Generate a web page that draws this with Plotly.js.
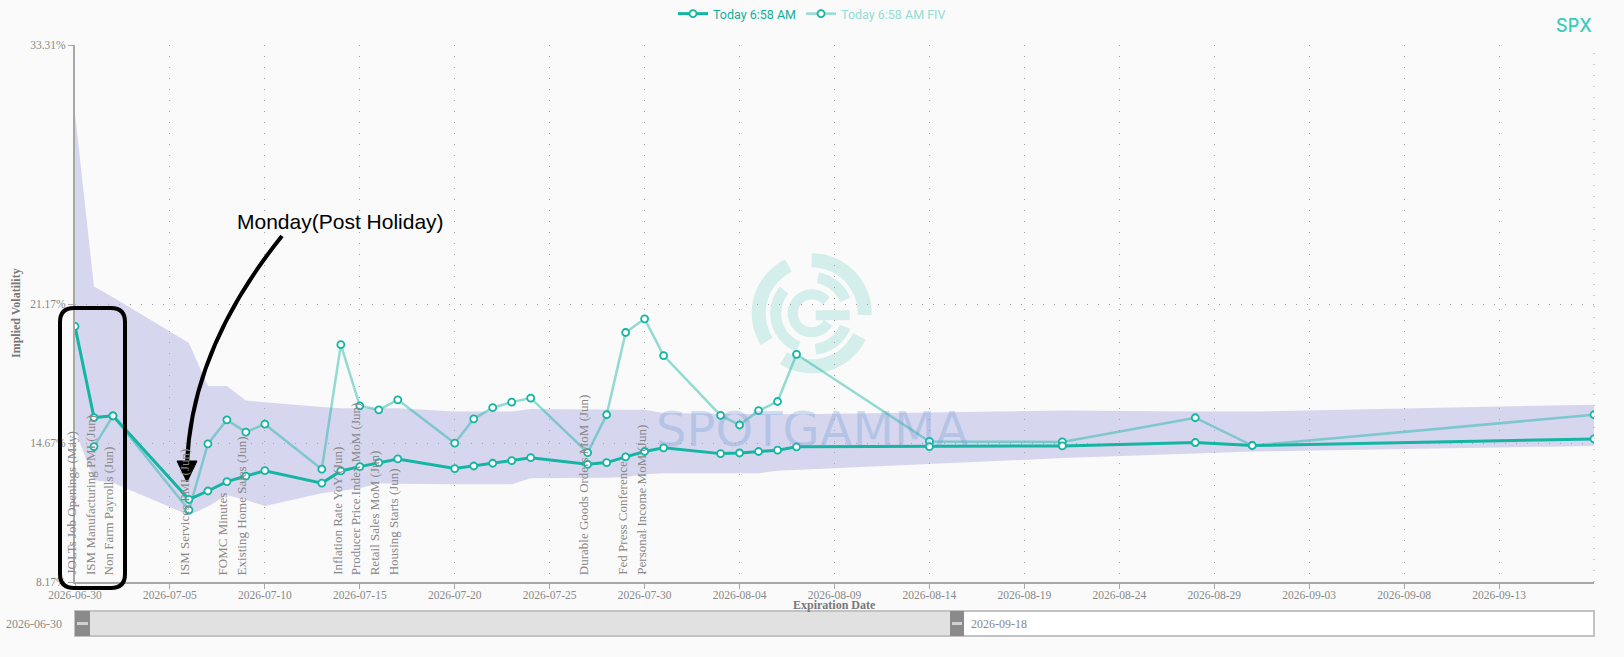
<!DOCTYPE html>
<html>
<head>
<meta charset="utf-8">
<script src="https://cdn.plot.ly/plotly-3.0.1.min.js"></script>
<style>
html,body{margin:0;padding:0;background:#fafafa;}
#chart{width:1624px;height:657px;}
</style>
</head>
<body>
<div id="chart"></div>
<script>
// ---------------- DATA ----------------
const expirations = ['2026-06-30','2026-07-01','2026-07-02','2026-07-06','2026-07-07','2026-07-08','2026-07-09','2026-07-10',
  '2026-07-13','2026-07-14','2026-07-15','2026-07-16','2026-07-17','2026-07-20','2026-07-21','2026-07-22','2026-07-23','2026-07-24',
  '2026-07-27','2026-07-28','2026-07-29','2026-07-30','2026-07-31','2026-08-03','2026-08-04','2026-08-05','2026-08-06','2026-08-07',
  '2026-08-14','2026-08-21','2026-08-28','2026-08-31','2026-09-18'];
const ivToday = [20.14,15.87,15.95,12.04,12.43,12.87,13.13,13.38,
  12.80,13.37,13.57,13.76,13.93,13.48,13.60,13.73,13.85,13.99,
  13.68,13.76,14.03,14.28,14.45,14.18,14.21,14.28,14.34,14.50,
  14.51,14.54,14.70,14.56,14.87];
const ivForward = [null,14.51,15.95,11.54,14.64,15.76,15.19,15.56,
  13.45,19.28,16.42,16.23,16.70,14.67,15.81,16.33,16.59,16.78,
  14.23,16.00,19.85,20.49,18.77,15.97,15.52,16.19,16.62,18.83,
  14.75,14.73,15.86,14.56,16.00];
const bandUpper = [30.10,22.00,21.50,19.36,17.35,17.35,16.67,16.58,
  16.36,16.31,16.31,16.30,16.30,16.15,16.15,16.15,16.15,16.27,
  16.23,16.23,16.23,16.23,16.08,16.05,16.05,16.03,16.03,16.02,
  16.10,16.20,16.15,16.15,16.47];
const bandLower = [15.30,12.95,12.82,11.30,11.70,12.24,12.01,11.73,
  12.32,12.45,12.56,12.79,12.77,12.75,12.75,12.75,12.75,13.03,
  13.03,13.05,13.08,13.21,13.26,13.26,13.26,13.26,13.38,13.42,
  13.70,13.97,14.18,14.28,14.54];
const eventDates = ['2026-06-30','2026-07-01','2026-07-02','2026-07-06','2026-07-08','2026-07-09',
  '2026-07-14','2026-07-15','2026-07-16','2026-07-17','2026-07-27','2026-07-29','2026-07-30'];
const eventNames = ['JOLTs Job Openings (May)','ISM Manufacturing PMI (Jun)','Non Farm Payrolls (Jun)','ISM Services PMI (Jun)',
  'FOMC Minutes','Existing Home Sales (Jun)','Inflation Rate YoY (Jun)','Producer Price Index MoM (Jun)',
  'Retail Sales MoM (Jun)','Housing Starts (Jun)','Durable Goods Orders MoM (Jun)','Fed Press Conference','Personal Income MoM (Jun)'];
const yTickValues = [8.17, 14.67, 21.17, 33.31];
const xTickDates = ['2026-06-30','2026-07-05','2026-07-10','2026-07-15','2026-07-20','2026-07-25','2026-07-30',
  '2026-08-04','2026-08-09','2026-08-14','2026-08-19','2026-08-24','2026-08-29','2026-09-03','2026-09-08','2026-09-13'];
const seriesNames = ['Today 6:58 AM','Today 6:58 AM FIV'];
const symbolName = 'SPX';
const watermarkText = 'SPOTGAMMA';
const calloutText = 'Monday(Post Holiday)';
const xTitle = 'Expiration Date';
const yTitle = 'Implied Volatility';

// ---------------- LAYOUT HELPERS (pixel -> paper) ----------------
const PL = 75, PR = 1594, PT = 45, PB = 582;
const fx = x => ((x - PL) / (PR - PL));
const fy = y => ((PB - y) / (PB - PT));
const P = (x, y) => fx(x).toFixed(5) + ',' + fy(y).toFixed(5);

const TEAL = '#14b5a2';
const TEAL_LIGHT = 'rgba(20,181,162,0.45)';
const serif = 'Liberation Serif, Times New Roman, serif';

// ---------------- TRACES ----------------
const traces = [
  {x: expirations, y: bandLower, mode: 'lines', line: {width: 0, color: 'rgba(0,0,0,0)'},
   showlegend: false, hoverinfo: 'skip'},
  {x: expirations, y: bandUpper, mode: 'lines', line: {width: 0, color: 'rgba(0,0,0,0)'},
   fill: 'tonexty', fillcolor: 'rgba(170,170,225,0.45)', showlegend: false, hoverinfo: 'skip'},
  {x: expirations, y: ivForward, mode: 'lines+markers', name: '<span style="color:#92ddd5">' + seriesNames[1] + '</span>',
   legendrank: 2, connectgaps: false,
   line: {color: TEAL_LIGHT, width: 2.5},
   marker: {symbol: 'circle', size: 7, color: '#ffffff', line: {color: TEAL, width: 1.8}}},
  {x: expirations, y: ivToday, mode: 'lines+markers', name: '<span style="color:#14ad9a">' + seriesNames[0] + '</span>',
   legendrank: 1,
   line: {color: TEAL, width: 3},
   marker: {symbol: 'circle', size: 7, color: '#ffffff', line: {color: TEAL, width: 1.8}}}
];

// ---------------- SHAPES ----------------
const shapes = [];
// right edge dotted gridline (last expiration)
shapes.push({type: 'line', xref: 'paper', yref: 'paper', x0: 1, x1: 1, y0: 0, y1: 1,
  line: {color: '#a0a0a0', width: 1, dash: '1px,10px'}, layer: 'below'});

// watermark logo (concentric broken rings)
const LCX = 811.7, LCY = 313.3;
const LOGO = 'rgba(20,175,160,0.17)';
function arcPath(cx, cy, r, a0, a1) {
  let s = '';
  const n = 28;
  for (let i = 0; i <= n; i++) {
    const a = (a0 + (a1 - a0) * i / n) * Math.PI / 180;
    const x = cx + r * Math.cos(a), y = cy - r * Math.sin(a);
    s += (i ? ' L ' : 'M ') + P(x, y);
  }
  return s;
}
const logoArcs = [
  [53, -2, 90, 14], [53, -122, -26, 14], [53, 116, 212, 14],
  [36, 22, 80, 11], [36, 140, 248, 11], [36, -84, -22, 11],
  [19, 40, 330, 10]
];
logoArcs.forEach(a => shapes.push({type: 'path', xref: 'paper', yref: 'paper',
  path: arcPath(LCX, LCY, a[0], a[1], a[2]), line: {color: LOGO, width: a[3]}, layer: 'below'}));
shapes.push({type: 'path', xref: 'paper', yref: 'paper',
  path: 'M ' + P(LCX + 4, LCY + 2) + ' L ' + P(LCX + 38, LCY + 2),
  line: {color: LOGO, width: 10}, layer: 'below'});

// rounded callout rectangle
(function () {
  const x0 = 60, x1 = 125, y0 = 308, y1 = 588, r = 14;
  const path = 'M ' + P(x0 + r, y0) + ' L ' + P(x1 - r, y0) + ' Q ' + P(x1, y0) + ' ' + P(x1, y0 + r) +
    ' L ' + P(x1, y1 - r) + ' Q ' + P(x1, y1) + ' ' + P(x1 - r, y1) +
    ' L ' + P(x0 + r, y1) + ' Q ' + P(x0, y1) + ' ' + P(x0, y1 - r) +
    ' L ' + P(x0, y0 + r) + ' Q ' + P(x0, y0) + ' ' + P(x0 + r, y0) + ' Z';
  shapes.push({type: 'path', xref: 'paper', yref: 'paper', path: path,
    line: {color: '#000000', width: 4}, layer: 'above'});
})();
// curved arrow
shapes.push({type: 'path', xref: 'paper', yref: 'paper',
  path: 'M ' + P(282, 236) + ' Q ' + P(191.5, 348.5) + ' ' + P(187, 464),
  line: {color: '#000000', width: 4}, layer: 'above'});
shapes.push({type: 'path', xref: 'paper', yref: 'paper',
  path: 'M ' + P(177, 461) + ' L ' + P(197, 461) + ' L ' + P(187, 482) + ' Z',
  fillcolor: '#000000', line: {color: '#000000', width: 1}, layer: 'above'});

// data zoom slider
const SY0 = 611, SY1 = 636;
shapes.push({type: 'rect', xref: 'paper', yref: 'paper', x0: 0, x1: 1, y0: fy(SY1), y1: fy(SY0),
  fillcolor: '#ffffff', line: {color: '#c2c2c2', width: 2}});
shapes.push({type: 'rect', xref: 'paper', yref: 'paper', x0: fx(76), x1: fx(957), y0: fy(SY1 - 1), y1: fy(SY0 + 1),
  fillcolor: '#e1e1e1', line: {width: 0}});
[[75, 90], [950, 964]].forEach(h => {
  shapes.push({type: 'rect', xref: 'paper', yref: 'paper', x0: fx(h[0]), x1: fx(h[1]), y0: fy(SY1), y1: fy(SY0),
    fillcolor: '#8a8a8a', line: {width: 0}});
  shapes.push({type: 'rect', xref: 'paper', yref: 'paper', x0: fx(h[0] + 2), x1: fx(h[1] - 2), y0: fy(625), y1: fy(622),
    fillcolor: '#d2d2d2', line: {width: 0}});
});

// ---------------- ANNOTATIONS ----------------
const annotations = eventNames.map((name, i) => ({
  x: eventDates[i], y: yTickValues[0], xref: 'x', yref: 'y', text: name, textangle: -90,
  showarrow: false, xanchor: 'center', yanchor: 'bottom', xshift: -4, yshift: 5,
  font: {family: serif, size: 13, color: '#888888'}
}));
annotations.push({xref: 'paper', yref: 'paper', x: fx(812), y: fy(429), text: watermarkText, showarrow: false,
  xanchor: 'center', yanchor: 'middle', font: {family: 'DejaVu Sans', size: 48, color: 'rgba(100,150,210,0.28)'}});
annotations.push({xref: 'paper', yref: 'paper', x: fx(340), y: fy(221), text: calloutText, showarrow: false,
  xanchor: 'center', yanchor: 'middle', font: {family: 'Liberation Sans, Arial, sans-serif', size: 21, color: '#000000'}});
annotations.push({xref: 'paper', yref: 'paper', x: 1, y: fy(25), text: symbolName, showarrow: false,
  xanchor: 'right', yanchor: 'middle', font: {family: 'Inter, Roboto, sans-serif', size: 18, color: '#3ccbbb', weight: 500}});
annotations.push({xref: 'paper', yref: 'paper', x: fx(64), y: fy(623.5), text: expirations[0], showarrow: false,
  xanchor: 'right', yanchor: 'middle', font: {family: serif, size: 12, color: '#888888'}});
annotations.push({xref: 'paper', yref: 'paper', x: fx(969), y: fy(623.5), text: expirations[expirations.length - 1], showarrow: false,
  xanchor: 'left', yanchor: 'middle', font: {family: serif, size: 12, color: '#888888'}});
annotations.push({xref: 'paper', yref: 'paper', x: fx(834.5), y: fy(605), text: '<b>' + xTitle + '</b>', showarrow: false,
  xanchor: 'center', yanchor: 'middle', font: {family: serif, size: 12, color: '#777777'}});
annotations.push({xref: 'paper', yref: 'paper', x: fx(16), y: fy(313), text: '<b>' + yTitle + '</b>', showarrow: false,
  textangle: -90, xanchor: 'center', yanchor: 'middle', font: {family: serif, size: 12, color: '#777777'}});

// ---------------- LAYOUT ----------------
const layout = {
  width: 1624, height: 657,
  margin: {l: PL, r: 1624 - PR, t: PT, b: 657 - PB, pad: 0, autoexpand: false},
  paper_bgcolor: '#fafafa', plot_bgcolor: '#fafafa',
  showlegend: true,
  legend: {orientation: 'h', traceorder: 'normal', x: fx(812), xanchor: 'center', y: fy(14), yanchor: 'middle',
    font: {family: 'Roboto, Inter, sans-serif', size: 12.5, color: '#14ad9a'}, bgcolor: 'rgba(0,0,0,0)', itemwidth: 30},
  xaxis: {
    type: 'date', range: [expirations[0], expirations[expirations.length - 1]],
    tickmode: 'array', tickvals: xTickDates, ticktext: xTickDates,
    showgrid: true, gridcolor: '#a0a0a0', gridwidth: 1, griddash: '1px,10px',
    showline: true, linecolor: '#a8a8a8', linewidth: 2,
    ticks: 'outside', ticklen: 1, tickcolor: '#a8a8a8', tickwidth: 1,
    minor: {tickmode: 'array', tickvals: xTickDates, ticks: 'outside', ticklen: 5, tickcolor: '#a8a8a8', tickwidth: 1, showgrid: false},
    tickfont: {family: serif, size: 11.5, color: '#888888'},
    zeroline: false, fixedrange: true, automargin: false
  },
  yaxis: {
    range: [yTickValues[0], yTickValues[yTickValues.length - 1]],
    tickmode: 'array', tickvals: yTickValues, ticktext: yTickValues.map(v => v.toFixed(2) + '%'),
    showgrid: true, gridcolor: '#a0a0a0', gridwidth: 1, griddash: '1px,10px',
    showline: true, linecolor: '#a8a8a8', linewidth: 2,
    ticks: 'outside', ticklen: 5, tickcolor: '#a8a8a8', tickwidth: 1,
    tickfont: {family: serif, size: 11.5, color: '#888888'},
    zeroline: false, fixedrange: true, automargin: false
  },
  shapes: shapes,
  annotations: annotations,
  hovermode: false
};

Plotly.newPlot('chart', traces, layout, {displayModeBar: false, responsive: false});
</script>
</body>
</html>
